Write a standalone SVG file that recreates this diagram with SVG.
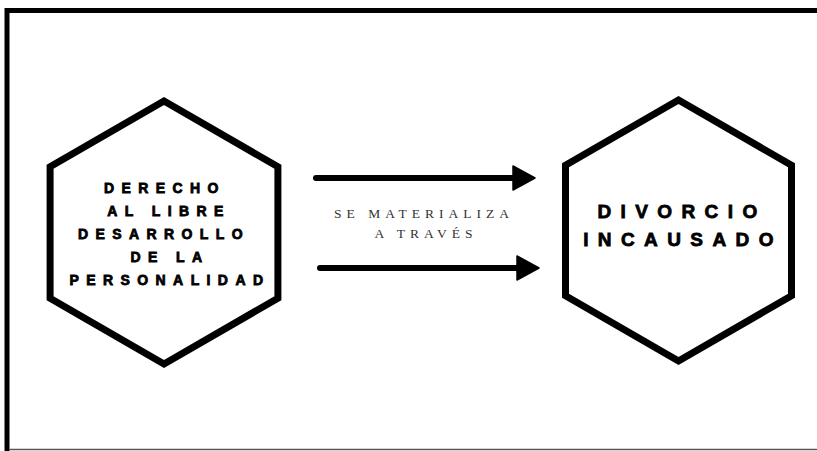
<svg xmlns="http://www.w3.org/2000/svg" width="817" height="451" viewBox="0 0 817 451">
<defs>
<style>
.hex{fill:#fff;stroke:#000;stroke-width:7;stroke-linejoin:miter}
.bold{font-family:"Liberation Sans",Arial,sans-serif;font-weight:bold;fill:#000;stroke:#000;stroke-width:0.8;text-anchor:middle}
.t1{font-size:14px;letter-spacing:7.4px}
.t2{font-size:19px;letter-spacing:9.4px}
.mid{font-family:"Liberation Serif","Times New Roman",serif;font-size:13.5px;letter-spacing:5px;fill:#333;text-anchor:middle}
.conn{stroke:#000;stroke-width:6;stroke-linecap:round;fill:none}
</style>
<marker id="ah" markerUnits="userSpaceOnUse" markerWidth="24" markerHeight="26" viewBox="0 0 24 26" refX="3" refY="13" orient="auto">
<path d="M1,1 L23,13 L1,25 Z" fill="#000" stroke="#000" stroke-width="1.5" stroke-linejoin="round"/>
</marker>
</defs>
<rect width="817" height="451" fill="#fff"/>
<g id="frame">
<path d="M7,451 V10.5 H817" fill="none" stroke="#000" stroke-width="5"/>
<line x1="9" y1="449.5" x2="817" y2="449.5" stroke="#555" stroke-width="1.5"/>
</g>
<g id="connectors">
<line class="conn" x1="316" y1="178" x2="515" y2="178" marker-end="url(#ah)"/>
<line class="conn" x1="320" y1="268" x2="519" y2="268" marker-end="url(#ah)"/>
<g id="connector-label">
<text class="mid" x="424" y="218">SE MATERIALIZA</text>
<text class="mid" x="426" y="238">A TRAVÉS</text>
</g>
</g>
<g id="node-derecho">
<polygon class="hex" points="164,101 277.9,166.75 277.9,298.25 164,364 50.1,298.25 50.1,166.75"/>
<text class="bold t1" x="165" y="193">DERECHO</text>
<text class="bold t1" x="169" y="216">AL LIBRE</text>
<text class="bold t1" x="164" y="239">DESARROLLO</text>
<text class="bold t1" x="170" y="262">DE LA</text>
<text class="bold t1" x="170" y="285">PERSONALIDAD</text>
</g>
<g id="node-divorcio">
<polygon class="hex" points="678.5,100 791.5,165.25 791.5,295.75 678.5,361 565.5,295.75 565.5,165.25"/>
<text class="bold t2" x="682" y="218">DIVORCIO</text>
<text class="bold t2" x="683" y="246">INCAUSADO</text>
</g>
</svg>
